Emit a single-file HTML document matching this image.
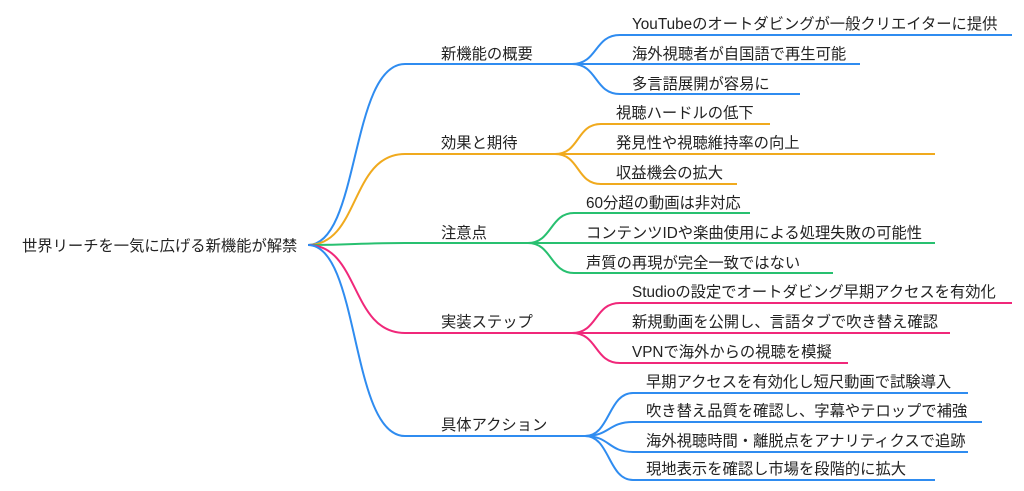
<!DOCTYPE html>
<html><head><meta charset="utf-8"><style>
html,body{margin:0;padding:0;background:#fff;}
svg{display:block;}
text{font-family:"Liberation Sans","Noto Sans CJK JP",sans-serif;font-size:15.3px;fill:#222;}
path{fill:none;stroke-width:2;}
</style></head><body>
<svg width="1024" height="491" viewBox="0 0 1024 491" xmlns="http://www.w3.org/2000/svg">
<text x="22" y="251">世界リーチを一気に広げる新機能が解禁</text>
<g stroke="#2f8cf0">
<path d="M308 245 C360 245 350 64 405 64 L572 64"/>
<path d="M572 64 C598 64 594 35 620 35 L1012 35"/>
<path d="M572 64 L860 64"/>
<path d="M572 64 C598 64 594 94 620 94 L800 94"/>
</g>
<text x="441" y="59">新機能の概要</text>
<text x="632" y="29">YouTubeのオートダビングが一般クリエイターに提供</text>
<text x="632" y="59">海外視聴者が自国語で再生可能</text>
<text x="632" y="89">多言語展開が容易に</text>
<g stroke="#f0aa1e">
<path d="M308 245 C360 245 350 154 405 154 L555 154"/>
<path d="M555 154 C580 154 576 124 601 124 L770 124"/>
<path d="M555 154 L935 154"/>
<path d="M555 154 C580 154 576 184 601 184 L737 184"/>
</g>
<text x="441" y="148">効果と期待</text>
<text x="616" y="118">視聴ハードルの低下</text>
<text x="616" y="148">発見性や視聴維持率の向上</text>
<text x="616" y="178">収益機会の拡大</text>
<g stroke="#28c070">
<path d="M308 245 C360 245 350 243 405 243 L528 243"/>
<path d="M528 243 C552 243 550 213 574 213 L750 213"/>
<path d="M528 243 L935 243"/>
<path d="M528 243 C552 243 550 273 574 273 L833 273"/>
</g>
<text x="441" y="238">注意点</text>
<text x="586" y="208">60分超の動画は非対応</text>
<text x="586" y="238">コンテンツIDや楽曲使用による処理失敗の可能性</text>
<text x="586" y="268">声質の再現が完全一致ではない</text>
<g stroke="#f0287a">
<path d="M308 245 C360 245 350 333 405 333 L572 333"/>
<path d="M572 333 C598 333 594 303 620 303 L1012 303"/>
<path d="M572 333 L950 333"/>
<path d="M572 333 C598 333 594 363 620 363 L848 363"/>
</g>
<text x="441" y="327">実装ステップ</text>
<text x="632" y="297">Studioの設定でオートダビング早期アクセスを有効化</text>
<text x="632" y="327">新規動画を公開し、言語タブで吹き替え確認</text>
<text x="632" y="357">VPNで海外からの視聴を模擬</text>
<g stroke="#2f8cf0">
<path d="M308 245 C360 245 350 436 405 436 L585 436"/>
<path d="M585 436 C610 436 608 393 633 393 L968 393"/>
<path d="M585 436 C610 436 608 422 633 422 L982 422"/>
<path d="M585 436 C610 436 608 452 633 452 L968 452"/>
<path d="M585 436 C610 436 608 480 633 480 L935 480"/>
</g>
<text x="441" y="430">具体アクション</text>
<text x="646" y="387">早期アクセスを有効化し短尺動画で試験導入</text>
<text x="646" y="416">吹き替え品質を確認し、字幕やテロップで補強</text>
<text x="646" y="446">海外視聴時間・離脱点をアナリティクスで追跡</text>
<text x="646" y="474">現地表示を確認し市場を段階的に拡大</text>
</svg>
</body></html>
